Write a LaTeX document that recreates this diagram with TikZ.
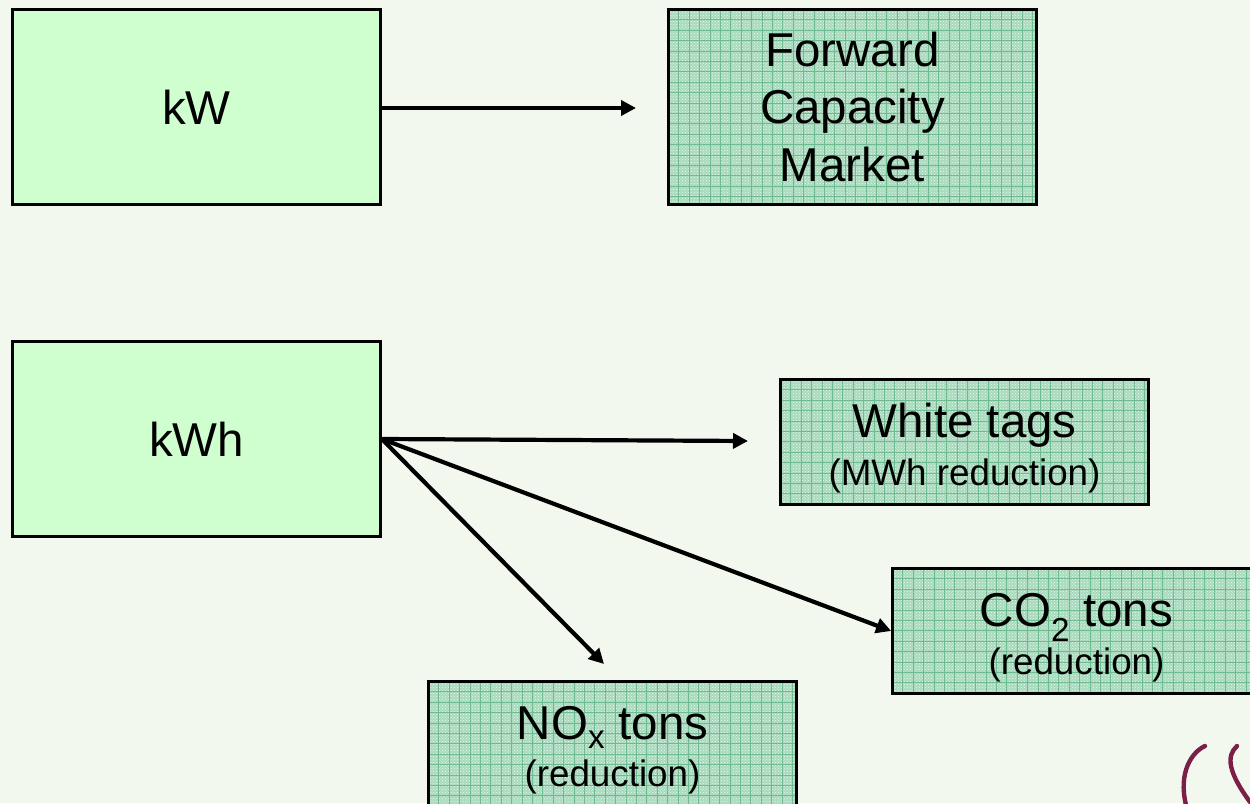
\documentclass[tikz,border=0pt]{standalone}
\usepackage{fontspec}
\setmainfont{Liberation Sans}
\usetikzlibrary{arrows.meta,patterns}
\definecolor{pagebg}{HTML}{F3F8EE}
\definecolor{lightbox}{HTML}{CFFFCF}
\definecolor{gridbase}{HTML}{A8DABD}
\definecolor{gridline}{HTML}{6FBB91}
\definecolor{swirl}{HTML}{7A2048}
\tikzset{
  x=1pt,y=-1pt,
  boxbase/.style={draw=black,line width=2.7pt,minimum width=368pt,inner sep=0pt,align=center,
    font=\fontsize{47.5}{57.5}\selectfont},
  plainbox/.style={boxbase,fill=lightbox,minimum height=195pt},
  gridbox/.style={boxbase,fill=gridbase,
    path picture={
      \fill[pattern=crosshatch dots,pattern color=white!75!gridbase]
        (path picture bounding box.north west) rectangle (path picture bounding box.south east);
      \foreach \i in {1,...,36}{
        \draw[gridline,line width=1.1pt]
          ([xshift=\i*10.4pt]path picture bounding box.north west) -- ([xshift=\i*10.4pt]path picture bounding box.south west);
      }
      \foreach \i in {1,...,19}{
        \draw[gridline,line width=1.1pt]
          ([yshift=-\i*10.4pt]path picture bounding box.north west) -- ([yshift=-\i*10.4pt]path picture bounding box.north east);
      }
    }},
  tallgrid/.style={gridbox,minimum height=195pt},
  lowgrid/.style={gridbox,minimum height=125pt},
  link/.style={line width=4.2pt,-{Triangle[length=15pt,width=15pt]}},
  swirlline/.style={swirl,line width=4.4pt,line cap=round},
}
\newcommand{\twolines}[4]{\raisebox{#3}[0pt][0pt]{\begin{tabular}{@{}c@{}}#1\\[#4]{\fontsize{36.8}{40}\selectfont #2}\end{tabular}}}
\begin{document}
\begin{tikzpicture}
\useasboundingbox (0,0) rectangle (1250,803);
\clip (0,0) rectangle (1250,803);
\fill[pagebg] (0,0) rectangle (1250,803);

\node[plainbox] (kw) at (196.5,107) {kW};
\node[plainbox] (kwh) at (196.5,439) {kWh};
\node[tallgrid] (fcm) at (852.5,107) {Forward\\Capacity\\Market};
\node[lowgrid] (white) at (964.5,442) {\twolines{White tags}{(MWh reduction)}{-14pt}{-9pt}};
\node[lowgrid] (co2) at (1076.5,631) {\twolines{CO\textsubscript{2} tons}{(reduction)}{-14pt}{-10pt}};
\node[lowgrid] (nox) at (612.5,744) {\twolines{NO\textsubscript{x} tons}{(reduction)}{-13.5pt}{-10pt}};

\coordinate (kwend) at (636,108);
\coordinate (whiteend) at (748,441);
\coordinate (noxend) at (604,664);

\draw[link] ([yshift=-1pt]kw.east) -- (kwend);
\draw[link] (kwh.east) -- (whiteend);
\draw[link] (kwh.east) -- (co2.west);
\draw[link] (kwh.east) -- (noxend);

\draw[swirlline] (1205,746) .. controls (1192,752) and (1178,772) .. (1186,805);
\draw[swirlline] (1237,746) .. controls (1226,756) and (1228,772) .. (1250,802);
\end{tikzpicture}
\end{document}
